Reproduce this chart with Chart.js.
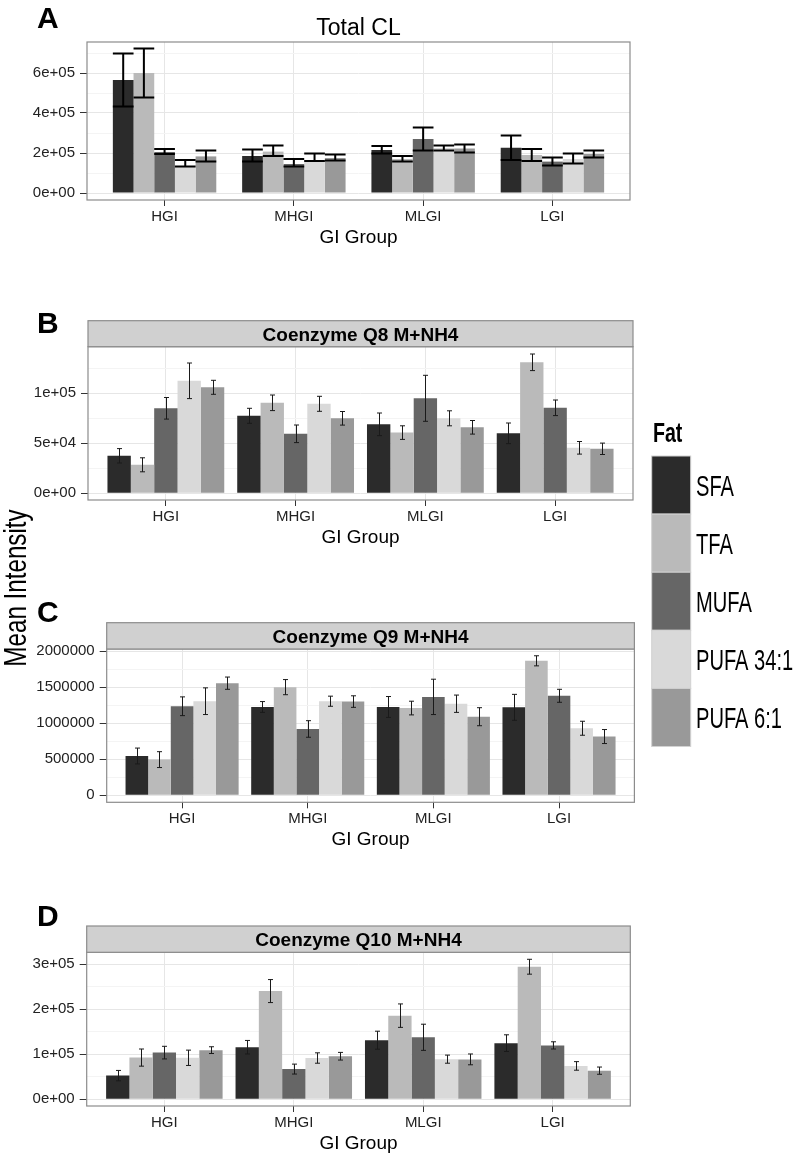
<!DOCTYPE html>
<html>
<head>
<meta charset="utf-8">
<script src="https://cdn.jsdelivr.net/npm/chart.js@4.4.1/dist/chart.umd.min.js"></script>
<style>
  body { margin: 0; background: #fff; }
  #wrap { position: relative; width: 797px; height: 1155px; }
  canvas { position: absolute; left: 0; top: 0; }
</style>
</head>
<body>
<div id="wrap">
  <canvas id="cA" width="797" height="1155"></canvas>
  <canvas id="cB" width="797" height="1155"></canvas>
  <canvas id="cC" width="797" height="1155"></canvas>
  <canvas id="cD" width="797" height="1155"></canvas>
</div>
<script>
const groups = ["HGI", "MHGI", "MLGI", "LGI"];
const fats = ["SFA", "TFA", "MUFA", "PUFA 34:1", "PUFA 6:1"];
const fatColors = ["#2b2b2b", "#bababa", "#666666", "#d9d9d9", "#999999"];

// A: Total CL, one row per fat (SFA, TFA, MUFA, PUFA 34:1, PUFA 6:1)
const clMean = [
  [565000, 185000, 215000, 226000],
  [600000, 207000, 170000, 190000],
  [205000, 145000, 270000, 157000],
  [130000, 162000, 225000, 170000],
  [183000, 175000, 223000, 195000]
];
const clLow = [
  [432000, 157000, 198000, 165000],
  [477000, 185000, 157000, 160000],
  [195000, 132000, 212000, 137000],
  [132000, 160000, 212000, 148000],
  [157000, 162000, 203000, 177000]
];
const clHigh = [
  [698000, 218000, 235000, 287000],
  [723000, 237000, 185000, 220000],
  [220000, 170000, 327000, 178000],
  [165000, 198000, 237000, 198000],
  [212000, 193000, 243000, 213000]
];
const clTicks = [0, 200000, 400000, 600000];
const clTickLabels = ["0e+00", "2e+05", "4e+05", "6e+05"];
const clMinor = [100000, 300000, 500000, 700000];

// B: Coenzyme Q8
const q8Mean = [
  [37500, 77500, 69000, 60000],
  [28500, 90500, 60700, 131000],
  [85000, 59500, 95000, 85500],
  [112500, 89500, 75000, 45500],
  [106000, 75000, 66000, 44500]
];
const q8Se = [
  [7200, 7500, 11300, 10300],
  [7000, 7800, 6800, 8300],
  [10800, 8800, 23000, 7800],
  [17800, 7500, 7500, 6300],
  [7000, 6800, 6800, 5700]
];
const q8Ticks = [0, 50000, 100000];
const q8TickLabels = ["0e+00", "5e+04", "1e+05"];
const q8Minor = [25000, 75000, 125000];

// C: Coenzyme Q9
const q9Mean = [
  [545000, 1225000, 1225000, 1220000],
  [495000, 1500000, 1210000, 1865000],
  [1235000, 920000, 1365000, 1380000],
  [1305000, 1305000, 1270000, 930000],
  [1555000, 1300000, 1090000, 815000]
];
const q9Se = [
  [110000, 75000, 145000, 180000],
  [110000, 105000, 95000, 70000],
  [130000, 115000, 245000, 90000],
  [185000, 70000, 120000, 97000],
  [85000, 80000, 125000, 97000]
];
const q9Ticks = [0, 500000, 1000000, 1500000, 2000000];
const q9TickLabels = ["0", "500000", "1000000", "1500000", "2000000"];
const q9Minor = [250000, 750000, 1250000, 1750000];

// D: Coenzyme Q10
const q10Mean = [
  [52500, 115500, 131000, 124500],
  [92500, 240000, 185500, 294000],
  [103500, 67000, 137500, 119500],
  [92000, 91500, 89000, 74000],
  [109000, 95500, 88500, 63500]
];
const q10Se = [
  [11500, 15000, 20000, 18500],
  [19000, 25500, 26000, 16500],
  [14000, 11000, 29000, 8000],
  [17000, 11500, 9000, 9500],
  [7500, 8500, 12000, 8000]
];
const q10Ticks = [0, 100000, 200000, 300000];
const q10TickLabels = ["0e+00", "1e+05", "2e+05", "3e+05"];
const q10Minor = [50000, 150000, 250000];

const FONT = '"Liberation Sans", Arial, Helvetica, sans-serif';
Chart.defaults.font.family = FONT;

function lowOf(mean, se) { return mean.map((r, i) => r.map((v, j) => v - se[i][j])); }
function highOf(mean, se) { return mean.map((r, i) => r.map((v, j) => v + se[i][j])); }

const panels = [
  { id: "cA", mean: clMean, low: clLow, high: clHigh,
    ticks: clTicks, tickLabels: clTickLabels, minor: clMinor,
    box: { left: 87, right: 630, top: 42, bottom: 200 }, yMin: -35000, yMax: 755000,
    groupWidth: 0.8, heavy: true, letter: "A", letterY: 28, title: "Total CL" },
  { id: "cB", mean: q8Mean, low: lowOf(q8Mean, q8Se), high: highOf(q8Mean, q8Se),
    ticks: q8Ticks, tickLabels: q8TickLabels, minor: q8Minor,
    box: { left: 88, right: 633, top: 346.7, bottom: 500 }, yMin: -6700, yMax: 146600,
    groupWidth: 0.9, letter: "B", letterY: 333, strip: "Coenzyme Q8 M+NH4", stripTop: 320.7 },
  { id: "cC", mean: q9Mean, low: lowOf(q9Mean, q9Se), high: highOf(q9Mean, q9Se),
    ticks: q9Ticks, tickLabels: q9TickLabels, minor: q9Minor,
    box: { left: 106.7, right: 634.4, top: 649, bottom: 802.3 }, yMin: -97000, yMax: 2029000,
    groupWidth: 0.9, letter: "C", letterY: 622, strip: "Coenzyme Q9 M+NH4", stripTop: 622.7 },
  { id: "cD", mean: q10Mean, low: lowOf(q10Mean, q10Se), high: highOf(q10Mean, q10Se),
    ticks: q10Ticks, tickLabels: q10TickLabels, minor: q10Minor,
    box: { left: 86.7, right: 630.3, top: 952.3, bottom: 1106 }, yMin: -14900, yMax: 326000,
    groupWidth: 0.9, letter: "D", letterY: 926, strip: "Coenzyme Q10 M+NH4", stripTop: 926, extras: true }
];

function errorBarPlugin(p) {
  return {
    id: "errorBars",
    afterDatasetsDraw(chart) {
      const ctx = chart.ctx, ys = chart.scales.y;
      ctx.save();
      ctx.strokeStyle = p.heavy ? "#000" : "#1a1a1a";
      ctx.lineWidth = p.heavy ? 2 : 1;
      chart.data.datasets.forEach((ds, i) => {
        chart.getDatasetMeta(i).data.forEach((bar, j) => {
          const yTop = ys.getPixelForValue(ds.errHigh[j]);
          const yBot = ys.getPixelForValue(ds.errLow[j]);
          const x = p.heavy ? bar.x : Math.round(bar.x) + 0.5;
          const half = p.heavy ? bar.width / 2 : 2.5;
          ctx.beginPath();
          ctx.moveTo(x, yTop); ctx.lineTo(x, yBot);
          ctx.moveTo(x - half, yTop); ctx.lineTo(x + half, yTop);
          ctx.moveTo(x - half, yBot); ctx.lineTo(x + half, yBot);
          ctx.stroke();
        });
      });
      ctx.restore();
    }
  };
}

function decorPlugin(p) {
  return {
    id: "panelDecor",
    afterDraw(chart) {
      const ctx = chart.ctx, a = chart.chartArea;
      const cx = (a.left + a.right) / 2;
      ctx.save();
      ctx.strokeStyle = "#8c8c8c";
      ctx.lineWidth = 1.2;
      ctx.strokeRect(a.left, a.top, a.right - a.left, a.bottom - a.top);
      ctx.fillStyle = "#000";
      ctx.textBaseline = "alphabetic";
      if (p.strip) {
        ctx.fillStyle = "#d0d0d0";
        ctx.fillRect(a.left, p.stripTop, a.right - a.left, a.top - p.stripTop);
        ctx.strokeRect(a.left, p.stripTop, a.right - a.left, a.top - p.stripTop);
        ctx.fillStyle = "#000";
        ctx.font = "bold 19px " + FONT;
        ctx.textAlign = "center";
        ctx.fillText(p.strip, cx, (p.stripTop + a.top) / 2 + 7);
      } else {
        ctx.font = "23px " + FONT;
        ctx.textAlign = "center";
        ctx.fillText(p.title, cx, 35);
      }
      ctx.font = "bold 30px " + FONT;
      ctx.textAlign = "left";
      ctx.fillText(p.letter, 37, p.letterY);
      ctx.font = "19px " + FONT;
      ctx.textAlign = "center";
      ctx.fillText("GI Group", cx, a.bottom + 43);
      ctx.restore();
    }
  };
}

const figureExtras = {
  id: "figureExtras",
  afterDraw(chart) {
    const ctx = chart.ctx;
    ctx.save();
    ctx.fillStyle = "#000";
    ctx.textBaseline = "alphabetic";
    // shared y title
    ctx.save();
    ctx.translate(26, 588);
    ctx.rotate(-Math.PI / 2);
    ctx.scale(0.78, 1);
    ctx.font = "31px " + FONT;
    ctx.textAlign = "center";
    ctx.fillText("Mean Intensity", 0, 0);
    ctx.restore();
    // legend
    ctx.save();
    ctx.translate(653, 441.7);
    ctx.scale(0.7, 1);
    ctx.font = "bold 28px " + FONT;
    ctx.textAlign = "left";
    ctx.fillText("Fat", 0, 0);
    ctx.restore();
    const kx = 651.7, kw = 39, ky = 456, kh = 58.1;
    fats.forEach((f, i) => {
      const y = ky + i * kh;
      ctx.fillStyle = fatColors[i];
      ctx.fillRect(kx, y, kw, kh);
      ctx.strokeStyle = "#d2d2d2";
      ctx.lineWidth = 1;
      ctx.strokeRect(kx, y, kw, kh);
      ctx.save();
      ctx.fillStyle = "#000";
      ctx.translate(696, y + kh / 2 + 11);
      ctx.scale(0.67, 1);
      ctx.font = "30px " + FONT;
      ctx.textAlign = "left";
      ctx.fillText(f, 0, 0);
      ctx.restore();
    });
    ctx.restore();
  }
};

function makeChart(p) {
  const W = 797, H = 1155, xAxisH = 40;
  const datasets = fats.map((f, i) => ({
    label: f,
    data: groups.map((g, j) => ({ x: j, y: p.mean[i][j] })),
    errLow: p.low[i],
    errHigh: p.high[i],
    backgroundColor: fatColors[i],
    borderWidth: 0,
    categoryPercentage: p.groupWidth,
    barPercentage: 1
  }));
  const isMajor = v => p.ticks.indexOf(v) >= 0;
  const plugins = [errorBarPlugin(p), decorPlugin(p)];
  if (p.extras) plugins.push(figureExtras);
  new Chart(document.getElementById(p.id), {
    type: "bar",
    data: { datasets },
    plugins,
    options: {
      responsive: false,
      animation: false,
      devicePixelRatio: 1,
      layout: {
        autoPadding: false,
        padding: { left: 0, top: p.box.top, right: W - p.box.right, bottom: H - p.box.bottom - xAxisH }
      },
      plugins: { legend: { display: false }, tooltip: { enabled: false }, title: { display: false } },
      scales: {
        x: {
          type: "linear",
          min: -0.6,
          max: 3.6,
          offset: false,
          afterFit: s => { s.height = xAxisH; },
          afterBuildTicks: s => { s.ticks = groups.map((g, i) => ({ value: i })); },
          ticks: { callback: v => groups[v], color: "#222", font: { size: 15 }, padding: 2, maxRotation: 0, autoSkip: false },
          grid: { offset: false, color: "#e6e6e6", tickColor: "#333", tickLength: 6, lineWidth: 1 },
          border: { display: false }
        },
        y: {
          min: p.yMin,
          max: p.yMax,
          afterFit: s => { s.width = p.box.left; },
          afterBuildTicks: s => {
            s.ticks = p.ticks.concat(p.minor).sort((a, b) => a - b).map(v => ({ value: v }));
          },
          ticks: {
            callback: v => isMajor(v) ? p.tickLabels[p.ticks.indexOf(v)] : "",
            color: "#222", font: { size: 15 }, padding: 5, autoSkip: false
          },
          grid: {
            color: c => isMajor(c.tick.value) ? "#e6e6e6" : "#f4f4f4",
            tickColor: c => isMajor(c.tick.value) ? "#333" : "rgba(0,0,0,0)",
            tickLength: 7,
            lineWidth: 1
          },
          border: { display: false }
        }
      }
    }
  });
}

panels.forEach(makeChart);
</script>
</body>
</html>
